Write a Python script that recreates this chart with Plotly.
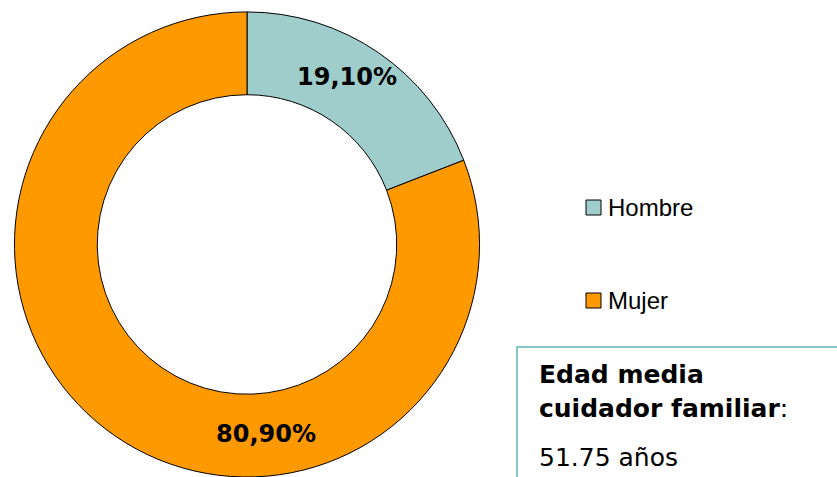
import plotly.graph_objects as go

categories = ["Hombre", "Mujer"]
values = [19.10, 80.90]
colors = ["#9ECDCC", "#FF9900"]
box_title = ["Edad media", "cuidador familiar"]
box_value = "51.75 años"

W, H = 837, 477


def px(x):
    return x / W


def py(y):
    return 1 - y / H


fig = go.Figure()
fig.add_trace(go.Pie(
    labels=categories,
    values=values,
    sort=False,
    direction="clockwise",
    rotation=0,
    hole=0.644,
    marker=dict(colors=colors, line=dict(color="#000000", width=1)),
    textinfo="none",
    hoverinfo="label+percent",
    showlegend=False,
    domain=dict(x=[px(14), px(480)], y=[0, 0.975]),
))

annotations = []
shapes = []

# slice labels
label_pos = [(347, 77), (266, 434)]
for v, (lx, ly) in zip(values, label_pos):
    annotations.append(dict(
        x=px(lx), y=py(ly), xref="paper", yref="paper",
        text=f"{v:.2f}".replace(".", ",") + "%",
        showarrow=False, xanchor="center", yanchor="middle",
        font=dict(family="DejaVu Sans", size=24, color="#000000", weight="bold"),
    ))

# manual legend
leg_y = [207.5, 300.5]
for cat, col, ly in zip(categories, colors, leg_y):
    shapes.append(dict(
        type="rect", xref="paper", yref="paper",
        x0=px(586), x1=px(601), y0=py(ly - 7.5), y1=py(ly + 7.5),
        fillcolor=col, line=dict(color="#000000", width=1),
    ))
    annotations.append(dict(
        x=px(606), y=py(ly), xref="paper", yref="paper",
        text=cat, showarrow=False, xanchor="left", yanchor="middle",
        font=dict(family="Liberation Sans", size=24, color="#000000"),
    ))

# info box
shapes.append(dict(
    type="rect", xref="paper", yref="paper",
    x0=px(517), x1=px(850), y0=py(490), y1=py(347),
    fillcolor="rgba(0,0,0,0)", line=dict(color="#86C5C9", width=2),
))
box_font = dict(family="DejaVu Sans", size=25, color="#000000")
annotations.append(dict(
    x=px(537), y=py(374), xref="paper", yref="paper",
    text=f"<b>{box_title[0]}</b>", showarrow=False, xanchor="left", yanchor="middle",
    font=box_font,
))
annotations.append(dict(
    x=px(537), y=py(408), xref="paper", yref="paper",
    text=f"<b>{box_title[1]}</b>:", showarrow=False, xanchor="left", yanchor="middle",
    font=box_font,
))
annotations.append(dict(
    x=px(537), y=py(457), xref="paper", yref="paper",
    text=box_value, showarrow=False, xanchor="left", yanchor="middle",
    font=box_font,
))

fig.update_layout(
    width=W, height=H,
    margin=dict(l=0, r=0, t=0, b=0),
    paper_bgcolor="#FFFFFF",
    plot_bgcolor="#FFFFFF",
    annotations=annotations,
    shapes=shapes,
)

fig.write_html(
    "out.html",
    config={"displayModeBar": False},
    post_script="document.body.style.margin='0px';",
)
